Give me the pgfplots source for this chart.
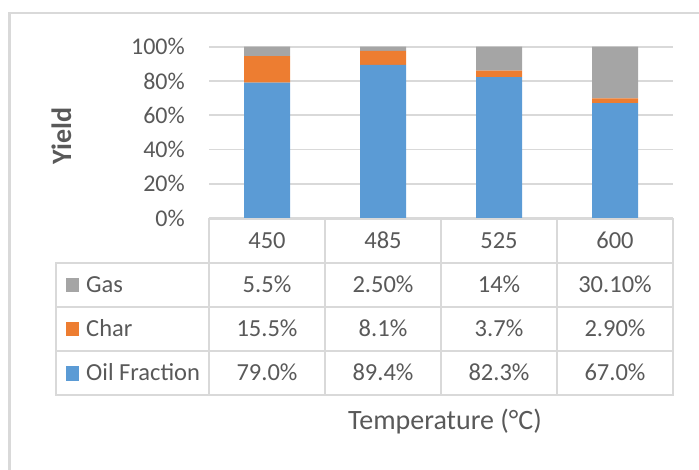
\documentclass[border=0pt]{standalone}
\usepackage{pgfplots}
\pgfplotsset{compat=1.18}
\usepackage{fontspec}
\setmainfont{Carlito}
\definecolor{oilblue}{HTML}{5B9BD5}
\definecolor{charorange}{HTML}{ED7D31}
\definecolor{gasgray}{HTML}{A5A5A5}
\definecolor{txt}{HTML}{595959}
\definecolor{lin}{HTML}{D9D9D9}
\begin{document}
\begin{tikzpicture}
\useasboundingbox (0pt,0pt) rectangle (699pt,-470pt);
\begin{scope}[x=1pt,y=-1pt]
\clip (0,0) rectangle (699,470);
\draw[lin, line width=2.5pt] (9.5,13) rectangle (760,520);
\end{scope}
\begin{axis}[
  at={(209pt,-218pt)}, anchor=south west,
  scale only axis, width=464pt, height=171.3pt,
  xmin=0, xmax=4, ymin=0, ymax=100,
  axis line style={draw=none},
  ybar stacked, bar width=46pt,
  xtick=\empty,
  ytick={0,20,40,60,80,100},
  yticklabels={0\%,20\%,40\%,60\%,80\%,100\%},
  major tick length=0pt,
  yticklabel style={font=\fontsize{24}{28}\selectfont, text=txt, anchor=east, inner sep=0pt, xshift=-24pt},
  ymajorgrids, grid style={draw=lin, line width=1.8pt},
  clip=false
]
\addplot[fill=oilblue, draw=none] coordinates {(0.5,79.0) (1.5,89.4) (2.5,82.3) (3.5,67.0)};
\addplot[fill=charorange, draw=none] coordinates {(0.5,15.5) (1.5,8.1) (2.5,3.7) (3.5,2.9)};
\addplot[fill=gasgray, draw=none] coordinates {(0.5,5.5) (1.5,2.5) (2.5,14.0) (3.5,30.1)};
\end{axis}
\begin{scope}[x=1pt,y=-1pt, every node/.style={font=\fontsize{24.5}{29}\selectfont, text=txt, inner sep=0pt}]
\begin{scope}[lin, line width=2pt, line cap=rect]
\draw (209,219.5) -- (673,219.5);
\foreach \y in {263,307,351,395} \draw (56,\y) -- (673,\y);
\draw (56,263) -- (56,395);
\foreach \x in {209,325,441,557,673} \draw (\x,219.5) -- (\x,395);
\end{scope}
\node[anchor=base] at (267,249) {450};
\node[anchor=base] at (383,249) {485};
\node[anchor=base] at (499,249) {525};
\node[anchor=base] at (615,249) {600};
\fill[gasgray] (66,278.5) rectangle (78.5,292.5);
\node[anchor=base west] at (86,292.5) {Gas};
\node[anchor=base] at (267,292.5) {5.5\%};
\node[anchor=base] at (383,292.5) {2.50\%};
\node[anchor=base] at (499,292.5) {14\%};
\node[anchor=base] at (615,292.5) {30.10\%};
\fill[charorange] (66,322.5) rectangle (78.5,336.5);
\node[anchor=base west] at (86,336.5) {Char};
\node[anchor=base] at (267,336.5) {15.5\%};
\node[anchor=base] at (383,336.5) {8.1\%};
\node[anchor=base] at (499,336.5) {3.7\%};
\node[anchor=base] at (615,336.5) {2.90\%};
\fill[oilblue] (66,366.5) rectangle (78.5,380.5);
\node[anchor=base west] at (86,380.5) {Oil Fraction};
\node[anchor=base] at (267,380.5) {79.0\%};
\node[anchor=base] at (383,380.5) {89.4\%};
\node[anchor=base] at (499,380.5) {82.3\%};
\node[anchor=base] at (615,380.5) {67.0\%};
\node[anchor=base, font=\fontsize{28}{33}\selectfont] at (445,429) {Temperature (°C)};
\node[anchor=base, rotate=90, font=\fontsize{28}{33}\selectfont\bfseries] at (71,136) {Yield};
\end{scope}
\end{tikzpicture}
\end{document}
